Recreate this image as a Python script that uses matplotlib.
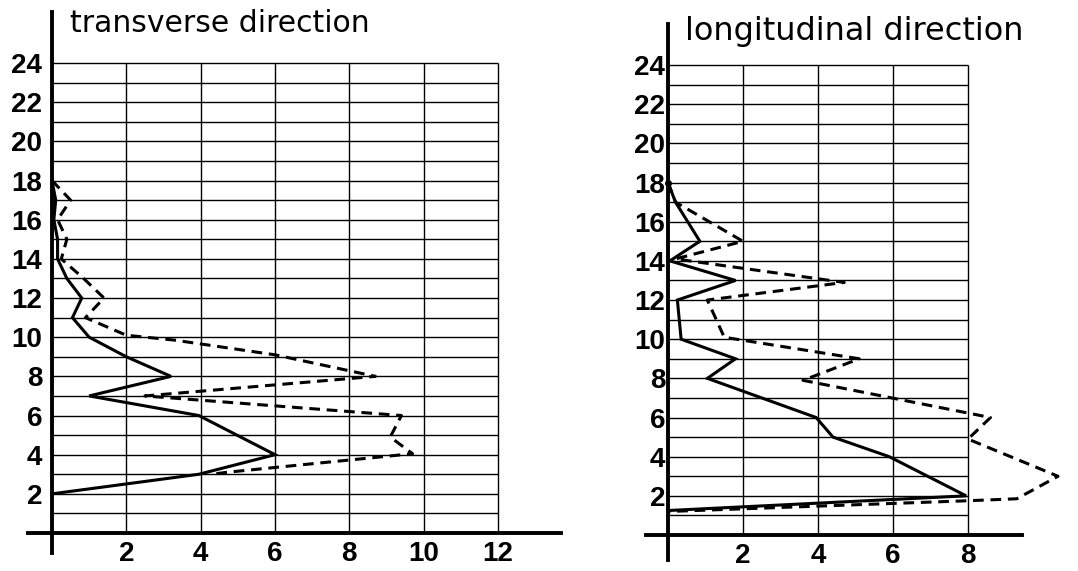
import matplotlib
matplotlib.use("Agg")
import matplotlib.pyplot as plt

# ---------------- data ----------------
yticks = list(range(2, 25, 2))
left_xticks = [2, 4, 6, 8, 10, 12]
right_xticks = [2, 4, 6, 8]

# transverse direction
trans_solid_x = [0, 0.1, 0.05, 0.15, 0.15, 0.4, 0.8, 0.55, 1.0, 2.0, 3.2, 1.0, 3.95, 6.0, 3.95, 0]
trans_solid_y = [18, 17, 16, 15, 14, 13, 12, 11, 10, 9, 8, 7, 6, 4, 3, 2]
trans_dash_x = [0, 0.5, 0.15, 0.4, 0.25, 0.85, 1.4, 0.9, 2.0, 3.3, 6.0, 8.7, 2.5, 9.4, 9.1, 9.7, 4.7, 4.3]
trans_dash_y = [18, 17, 16, 15, 14, 13, 12, 11, 10.1, 9.85, 9.1, 8, 7, 6, 4.9, 4.05, 3.1, 3.0]

# longitudinal direction
long_solid_x = [0, 0.2, 0.85, 0.05, 1.8, 0.25, 0.3, 0.35, 1.8, 1.05, 3.95, 4.4, 5.9, 7.95, 0]
long_solid_y = [18, 17, 15, 14, 13, 12, 11, 10, 9, 8, 6, 5, 4, 2, 1.25]
long_dash_x = [0, 0.2, 2.0, 0.2, 4.7, 1.05, 1.5, 5.1, 3.6, 8.6, 8.0, 10.4, 9.3, 8.0, 0]
long_dash_y = [18, 17, 15, 14.1, 12.9, 12, 10.1, 9, 7.9, 6, 4.9, 3, 1.85, 1.75, 1.2]

W, H = 1078, 571
fig = plt.figure(figsize=(W / 100, H / 100), dpi=100)

num_font = dict(family=["Liberation Sans", "DejaVu Sans"], size=20, weight="bold")


def make_axes(px_x0, px_per_x, px_y0, px_per_y, xlim, ylim):
    # px_x0: pixel x of data 0, px_y0: pixel y (from top) of data 0
    left = px_x0 + xlim[0] * px_per_x
    right = px_x0 + xlim[1] * px_per_x
    bottom = px_y0 - ylim[0] * px_per_y
    top = px_y0 - ylim[1] * px_per_y
    ax = fig.add_axes([left / W, 1 - bottom / H, (right - left) / W, (bottom - top) / H])
    ax.set_xlim(*xlim)
    ax.set_ylim(*ylim)
    ax.patch.set_alpha(0)
    return ax


def style(ax, xmax_grid, xticks, spine_x, spine_y, ypad, title, title_x, title_y, tsize):
    ax.hlines(range(1, 25), 0, xmax_grid, colors="black", lw=1.0, zorder=1)
    ax.vlines(xticks, 0, 24, colors="black", lw=1.0, zorder=1)
    for s in ["top", "right"]:
        ax.spines[s].set_visible(False)
    ax.spines["left"].set_position(("data", 0))
    ax.spines["bottom"].set_position(("data", 0))
    ax.spines["left"].set_bounds(*spine_y)
    ax.spines["bottom"].set_bounds(*spine_x)
    ax.spines["left"].set_linewidth(2.8)
    ax.spines["bottom"].set_linewidth(2.8)
    ax.set_xticks(xticks)
    ax.set_xticklabels([str(v) for v in xticks], fontdict=num_font)
    ax.set_yticks(yticks)
    ax.set_yticklabels([str(v) for v in yticks], fontdict=num_font)
    ax.tick_params(axis="x", length=0, pad=6)
    ax.tick_params(axis="y", length=0, pad=ypad)
    ax.text(title_x, title_y, title, ha="left", va="baseline",
            family="DejaVu Sans", size=tsize, color="black")


# left panel
axL = make_axes(52, 37.17, 533, 19.58, (-0.65, 13.75), (-1.1, 26.8))
style(axL, 12, left_xticks, (-0.65, 13.7), (-1.0, 26.6), 7,
      "transverse direction", 0.48, 25.59, 21.5)
axL.plot(trans_solid_x, trans_solid_y, color="black", lw=2.2, solid_joinstyle="miter", zorder=3)
axL.plot(trans_dash_x, trans_dash_y, color="black", lw=2.2, dashes=(3.5, 2.2), zorder=3)

# right panel
axR = make_axes(668, 37.5, 535, 19.58, (-0.65, 10.9), (-1.4, 26.3))
style(axR, 8, right_xticks, (-0.6, 9.45), (-1.3, 26.1), 2,
      "longitudinal direction", 0.45, 25.28, 23)
axR.plot(long_solid_x, long_solid_y, color="black", lw=2.2, solid_joinstyle="miter", zorder=3)
axR.plot(long_dash_x, long_dash_y, color="black", lw=2.2, dashes=(3.5, 2.2), zorder=3)
axR.plot([long_solid_x[0]], [long_solid_y[0]], "o", color="black", ms=4, zorder=4)

fig.savefig("out.png", dpi=100)
